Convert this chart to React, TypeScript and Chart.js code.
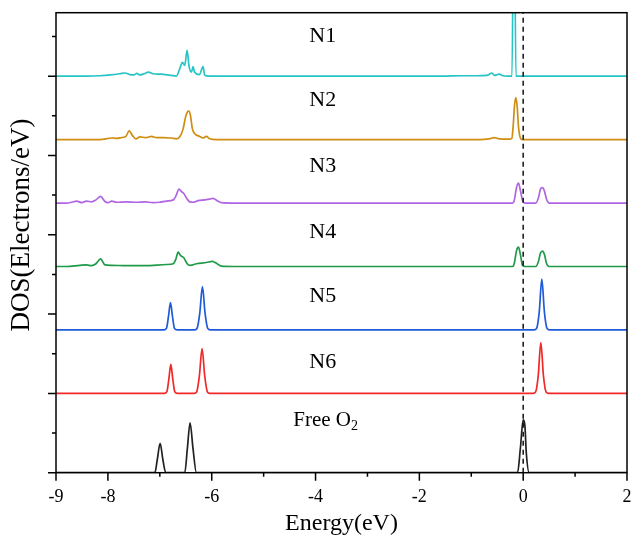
import React, { useEffect, useRef } from 'react';
import { Chart, registerables } from 'chart.js';

Chart.register(...registerables);

// ---- axes ----
const xMin = -9;
const xMax = 2;
const yMin = 0;
const yMax = 11.6;
const xTickLabels = [-9, -8, -6, -4, -2, 0, 2];
const fermiLevel = 0;

// ---- series ----
const seriesNames = ['N1', 'N2', 'N3', 'N4', 'N5', 'N6', 'Free O2'];
const offsets = [10, 8.4, 6.8, 5.2, 3.6, 2.0, 0];
const colors = ['#26C4C6', '#CF8E12', '#B065E2', '#1E9A48', '#1F5AD8', '#F02828', '#222222'];

const n1E = [-9, -8.4, -8.15, -7.95, -7.77, -7.67, -7.58, -7.5, -7.44, -7.39, -7.3, -7.22, -7.13, -7.05, -6.97, -6.85, -6.78, -6.68, -6.615, -6.565, -6.52, -6.475, -6.436, -6.39, -6.36, -6.33, -6.237, -6.167, -6.135, -6.04, -5.5, -4.5, -3.5, -2.5, -1.55, -1.2, -0.9, -0.7, -0.6, -0.557, -0.494, -0.46, -0.39, -0.3, -0.215, -0.178, -0.14, -0.08, 0.5, 1.2, 2];
const n1D = [0, 0, 0.01, 0.03, 0.06, 0.08, 0.04, 0.03, 0.07, 0.03, 0.06, 0.1, 0.06, 0.05, 0.05, 0.03, 0.02, 0, 0.19, 0.35, 0.27, 0.65, 0.24, 0.1, 0.24, 0.1, 0.04, 0.24, 0.02, 0, 0, 0, 0, 0, 0, 0.01, 0.01, 0.02, 0.08, 0.02, 0.04, 0.05, 0.01, 0, 0, 6, 0, 0, 0, 0, 0];

const n2E = [-9, -8.15, -7.93, -7.83, -7.74, -7.654, -7.59, -7.526, -7.46, -7.385, -7.27, -7.16, -7.064, -6.94, -6.776, -6.679, -6.615, -6.551, -6.506, -6.468, -6.442, -6.41, -6.372, -6.327, -6.231, -6.167, -6.103, -6.038, -5.91, -4, -2, -0.846, -0.654, -0.558, -0.462, -0.27, -0.218, -0.192, -0.167, -0.141, -0.115, -0.09, -0.045, 0, 1, 2];
const n2D = [0, 0, 0.04, 0.03, 0.05, 0.08, 0.22, 0.1, 0.02, 0.07, 0.05, 0.08, 0.05, 0.05, 0.04, 0.02, 0.07, 0.27, 0.56, 0.7, 0.72, 0.61, 0.27, 0.15, 0.08, 0.04, 0.08, 0.02, 0, 0, 0, 0, 0.02, 0.05, 0.02, 0.01, 0.03, 0.36, 0.86, 1.06, 0.82, 0.32, 0.02, 0, 0, 0];

const n3E = [-9, -8.8, -8.699, -8.603, -8.5, -8.41, -8.314, -8.23, -8.141, -8.058, -7.994, -7.929, -7.833, -7.64, -7.45, -7.29, -7.13, -7.0, -6.87, -6.74, -6.69, -6.63, -6.583, -6.538, -6.487, -6.423, -6.36, -6.263, -6.135, -6.038, -5.974, -5.897, -5.814, -5.59, -4, -2, -0.8, -0.205, -0.173, -0.128, -0.09, -0.051, -0.013, 0.032, 0.244, 0.295, 0.333, 0.372, 0.41, 0.449, 0.5, 1, 2];
const n3D = [0, 0, 0.02, 0.05, 0.01, 0.05, 0.03, 0.08, 0.17, 0.04, 0.01, 0.05, 0.02, 0.03, 0.02, 0.03, 0.01, 0.02, 0.05, 0.08, 0.18, 0.35, 0.29, 0.24, 0.13, 0.03, 0.02, 0.06, 0.08, 0.1, 0.12, 0.06, 0.01, 0, 0, 0, 0, 0, 0.06, 0.39, 0.5, 0.3, 0.06, 0, 0, 0.14, 0.35, 0.39, 0.3, 0.1, 0, 0, 0];

const n4E = [-9, -8.8, -8.538, -8.41, -8.314, -8.23, -8.141, -8.058, -7.929, -7.64, -7.29, -6.87, -6.74, -6.69, -6.647, -6.603, -6.538, -6.474, -6.41, -6.295, -6.103, -5.987, -5.897, -5.814, -5.59, -4, -2, -0.8, -0.205, -0.173, -0.128, -0.09, -0.051, -0.013, 0.032, 0.244, 0.295, 0.333, 0.372, 0.41, 0.449, 0.5, 1, 2];
const n4D = [0, 0, 0.03, 0.04, 0.02, 0.07, 0.19, 0.04, 0.03, 0.02, 0.02, 0.05, 0.07, 0.19, 0.36, 0.28, 0.22, 0.07, 0.03, 0.07, 0.1, 0.13, 0.07, 0.01, 0, 0, 0, 0, 0, 0.07, 0.4, 0.49, 0.28, 0.03, 0, 0, 0.13, 0.34, 0.39, 0.3, 0.08, 0, 0, 0];

const n5E = [-9, -7.5, -6.923, -6.872, -6.833, -6.795, -6.756, -6.718, -6.667, -6.327, -6.282, -6.231, -6.179, -6.128, -6.077, -6.026, -3, 0.209, 0.259, 0.309, 0.359, 0.409, 0.459, 0.509, 1, 2];
const n5D = [0, 0, 0, 0.04, 0.34, 0.69, 0.34, 0.04, 0, 0, 0.04, 0.42, 1.09, 0.42, 0.04, 0, 0, 0, 0.04, 0.45, 1.28, 0.45, 0.04, 0, 0, 0];

const n6E = [-9, -7.5, -6.916, -6.865, -6.826, -6.788, -6.75, -6.711, -6.66, -6.334, -6.289, -6.238, -6.186, -6.135, -6.084, -6.038, -3, 0.19, 0.24, 0.29, 0.34, 0.39, 0.44, 0.49, 1, 2];
const n6D = [0, 0, 0, 0.04, 0.36, 0.73, 0.36, 0.04, 0, 0, 0.04, 0.44, 1.13, 0.44, 0.04, 0, 0, 0, 0.04, 0.45, 1.28, 0.45, 0.04, 0, 0, 0];

const o2E = [-9, -7.5, -7.096, -7.05, -6.994, -6.94, -6.885, -6.6, -6.519, -6.47, -6.417, -6.36, -6.295, -3, -0.109, -0.055, 0, 0.032, 0.06, 0.115, 1, 2];
const o2D = [0, 0, 0, 0.32, 0.74, 0.32, 0, 0, 0, 0.6, 1.26, 0.6, 0, 0, 0, 0.6, 1.33, 1.2, 0.5, 0, 0, 0];

const energies = [n1E, n2E, n3E, n4E, n5E, n6E, o2E];
const dosValues = [n1D, n2D, n3D, n4D, n5D, n6D, o2D];

// label anchor (energy, stacked level)
const labelE = [-4.12, -4.12, -4.12, -4.12, -4.12, -4.12, -4.43];
const labelLevel = [10.86, 9.24, 7.58, 5.93, 4.31, 2.63, 1.18];

const FONT = "'Liberation Serif', 'Times New Roman', serif";

const decorPlugin = {
  id: 'decor',
  afterDraw(chart: any) {
    const { ctx, chartArea: a, scales } = chart;
    const x = scales.x;
    const y = scales.y;
    ctx.save();
    ctx.strokeStyle = '#000';
    ctx.lineWidth = 1.5;
    ctx.strokeRect(a.left, a.top, a.right - a.left, a.bottom - a.top);
    ctx.beginPath();
    for (let v = xMin; v <= xMax; v++) {
      const px = x.getPixelForValue(v);
      const len = v % 2 === 0 || v === xMin ? 8 : 4;
      ctx.moveTo(px, a.bottom);
      ctx.lineTo(px, a.bottom + len);
    }
    for (let v = 0; v <= Math.floor(yMax); v++) {
      const py = y.getPixelForValue(v);
      const len = v % 2 === 0 ? 8 : 4;
      ctx.moveTo(a.left, py);
      ctx.lineTo(a.left - len, py);
    }
    ctx.stroke();

    // series labels
    ctx.fillStyle = '#000';
    ctx.textAlign = 'left';
    ctx.textBaseline = 'alphabetic';
    seriesNames.forEach((name, i) => {
      const px = x.getPixelForValue(labelE[i]);
      const py = y.getPixelForValue(labelLevel[i]);
      if (name.endsWith('2') && name.startsWith('Free')) {
        const main = name.slice(0, -1);
        ctx.font = `21px ${FONT}`;
        ctx.fillText(main, px, py);
        const w = ctx.measureText(main).width;
        ctx.font = `14px ${FONT}`;
        ctx.fillText('2', px + w, py + 4);
      } else {
        ctx.font = `22px ${FONT}`;
        ctx.fillText(name, px, py);
      }
    });

    // y title
    ctx.font = `27px ${FONT}`;
    ctx.textAlign = 'center';
    ctx.textBaseline = 'middle';
    ctx.translate(22, 225);
    ctx.rotate(-Math.PI / 2);
    ctx.fillText('DOS(Electrons/eV)', 0, 0);
    ctx.restore();
  },
};

export default function App() {
  const ref = useRef<HTMLCanvasElement>(null);
  useEffect(() => {
    document.body.style.margin = '0';
    Chart.defaults.font.family = FONT;
    const datasets: any[] = seriesNames.map((name, i) => ({
      label: name,
      data: energies[i].map((e, j) => ({ x: e, y: dosValues[i][j] + offsets[i] })),
      borderColor: colors[i],
      borderWidth: 1.7,
      pointRadius: 0,
      fill: false,
      cubicInterpolationMode: 'monotone',
      order: 1,
    }));
    datasets.push({
      label: 'Fermi',
      data: [
        { x: fermiLevel, y: yMin },
        { x: fermiLevel, y: yMax },
      ],
      borderColor: '#111',
      borderWidth: 1.5,
      borderDash: [5, 4],
      pointRadius: 0,
      fill: false,
      order: 0,
    });
    const chart = new Chart(ref.current as HTMLCanvasElement, {
      type: 'line',
      data: { datasets },
      options: {
        responsive: false,
        animation: false,
        devicePixelRatio: 1,
        layout: { padding: { left: 0, right: 6, top: 12.7, bottom: 0 } },
        plugins: { legend: { display: false }, tooltip: { enabled: false } },
        scales: {
          x: {
            type: 'linear',
            min: xMin,
            max: xMax,
            afterBuildTicks: (s: any) => {
              s.ticks = xTickLabels.map((v) => ({ value: v }));
            },
            afterFit: (s: any) => {
              s.height = 73.3;
              s.paddingLeft = 0;
              s.paddingRight = 0;
            },
            grid: { display: false, drawTicks: false },
            border: { display: false },
            ticks: { color: '#000', font: { size: 18, family: FONT }, padding: 14, maxRotation: 0, autoSkip: false },
            title: { display: true, text: 'Energy(eV)', color: '#000', font: { size: 24, family: FONT }, padding: { top: 0, bottom: 8 } },
          },
          y: {
            type: 'linear',
            min: yMin,
            max: yMax,
            afterFit: (s: any) => {
              s.width = 56;
            },
            grid: { display: false, drawTicks: false },
            border: { display: false },
            ticks: { display: false },
          },
        },
      },
      plugins: [decorPlugin],
    } as any);
    return () => chart.destroy();
  }, []);
  return (
    <div style={{ width: 633, height: 546 }}>
      <canvas ref={ref} width={633} height={546} style={{ display: 'block' }} />
    </div>
  );
}
